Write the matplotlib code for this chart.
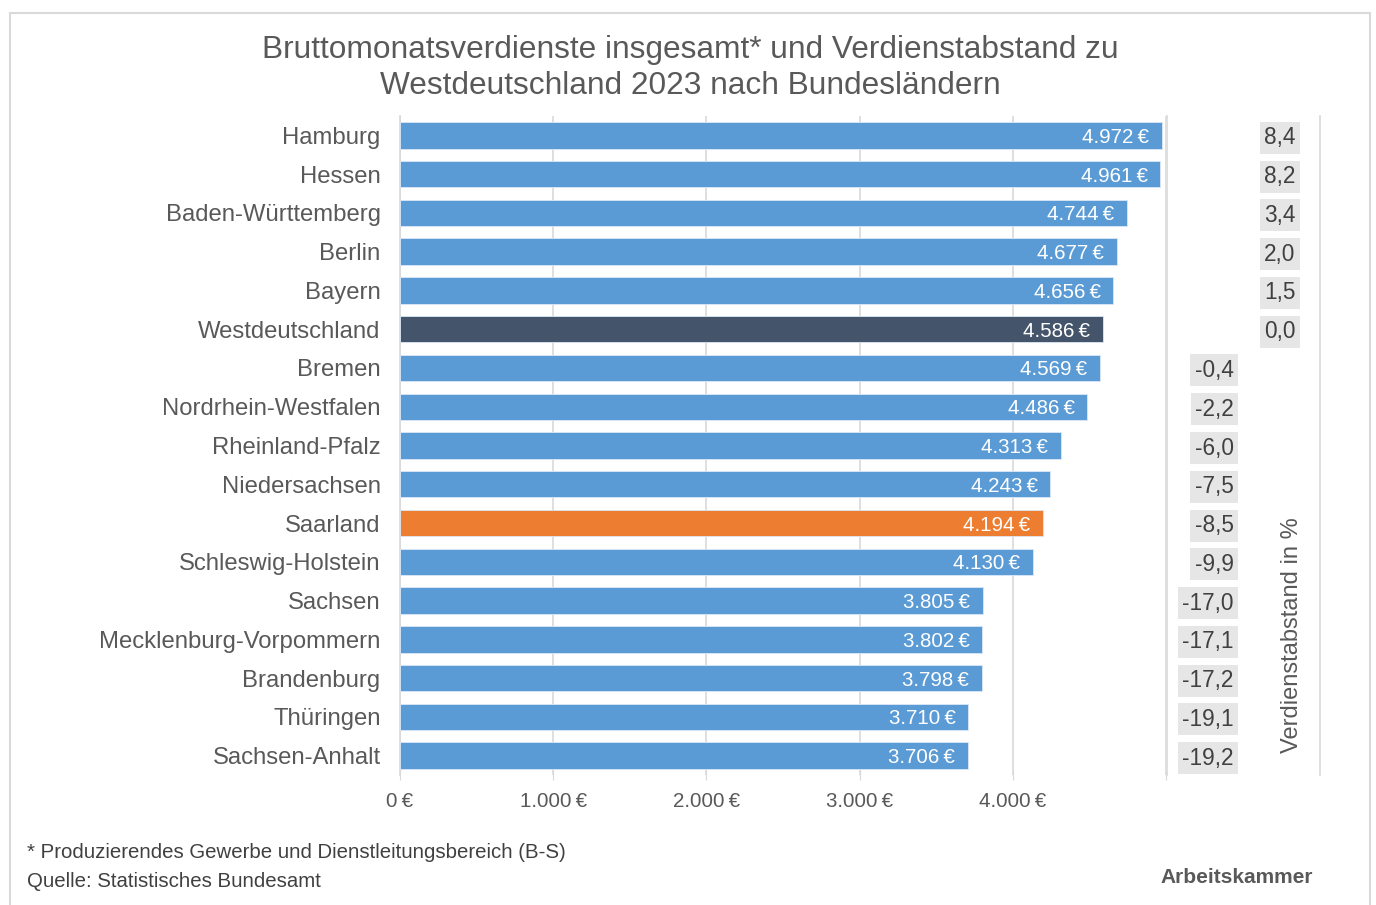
import numpy as np
import matplotlib.pyplot as plt
from matplotlib.patches import Rectangle

plt.rcParams['font.family'] = ['Liberation Sans', 'DejaVu Sans']

# data
laender = ['Hamburg', 'Hessen', 'Baden-Württemberg', 'Berlin', 'Bayern', 'Westdeutschland',
           'Bremen', 'Nordrhein-Westfalen', 'Rheinland-Pfalz', 'Niedersachsen', 'Saarland',
           'Schleswig-Holstein', 'Sachsen', 'Mecklenburg-Vorpommern', 'Brandenburg',
           'Thüringen', 'Sachsen-Anhalt']
verdienst = [4972, 4961, 4744, 4677, 4656, 4586, 4569, 4486, 4313, 4243, 4194,
             4130, 3805, 3802, 3798, 3710, 3706]
abstand = [8.4, 8.2, 3.4, 2.0, 1.5, 0.0, -0.4, -2.2, -6.0, -7.5, -8.5,
           -9.9, -17.0, -17.1, -17.2, -19.1, -19.2]
xticks = [0, 1000, 2000, 3000, 4000]

blue = '#5b9bd5'
dark = '#44546a'
orange = '#ed7d31'
grid = '#d9d9d9'
txt = '#595959'

def euro(v):
    s = f'{v:,}'.replace(',', '.')
    return s + '\u2009€'

colors = []
for name in laender:
    if name == 'Westdeutschland':
        colors.append(dark)
    elif name == 'Saarland':
        colors.append(orange)
    else:
        colors.append(blue)

W, H = 1376, 905
fig = plt.figure(figsize=(W / 100, H / 100), dpi=100)

# light frame around the chart
fig.patches.append(Rectangle((10 / W, -0.05), 1360 / W, 1.05 - 13 / H, transform=fig.transFigure,
                             fill=False, edgecolor=grid, linewidth=1.5))

ax = fig.add_axes([400 / W, 130 / H, 766 / W, 659 / H])
y = np.arange(len(laender))
ax.barh(y, verdienst, height=0.68, color=colors, edgecolor='#dbe8f5', linewidth=0.6, zorder=3)
ax.set_ylim(len(laender) - 0.5, -0.5)
ax.set_xlim(0, 5000)
ax.set_yticks(y)
ax.set_yticklabels(laender, fontsize=17.2, color=txt)
ax.set_xticks(xticks + [5000])
ax.set_xticklabels([euro(v) if v > 0 else '0\u2009€' for v in xticks] + [''], fontsize=14.8, color=txt)
ax.tick_params(axis='y', length=0, pad=14)
ax.tick_params(axis='x', length=7, color=grid, pad=9, direction='inout')
ax.grid(axis='x', color=grid, linewidth=1.2, zorder=0)
for s in ['top', 'right', 'bottom']:
    ax.spines[s].set_visible(False)
ax.spines['left'].set_color(grid)
ax.spines['left'].set_linewidth(1.2)

for i, v in enumerate(verdienst):
    ax.annotate(euro(v), (v, i), xytext=(-9, 0), textcoords='offset points',
                ha='right', va='center_baseline', color='white', fontsize=14.8, zorder=4)

# second panel: Verdienstabstand
ax2 = fig.add_axes([1167 / W, 130 / H, 153 / W, 659 / H])
ax2.set_xlim(-30, 25)
ax2.set_ylim(len(laender) - 0.5, -0.5)
ax2.set_xticks([])
ax2.set_yticks([])
for s in ['top', 'bottom']:
    ax2.spines[s].set_visible(False)
for s in ['left', 'right']:
    ax2.spines[s].set_color(grid)
    ax2.spines[s].set_linewidth(1.2)
ax2.patch.set_alpha(0)

for i, a in enumerate(abstand):
    lab = f'{a:.1f}'.replace('.', ',')
    if a >= 0:
        off, ha = 10, 'left'
    else:
        off, ha = -12, 'right'
    ax2.annotate(lab, (0, i), xytext=(off, 0), textcoords='offset points', ha=ha,
                 va='center_baseline', fontsize=16.3, color='#404040',
                 bbox=dict(boxstyle='square,pad=0.2', facecolor='#e7e6e6', edgecolor='none'))

fig.text(1292 / W, 1 - 635 / H, 'Verdienstabstand in %', rotation=90, ha='center', va='center',
         fontsize=17, color=txt)

fig.text(690 / W, 1 - 68 / H, 'Bruttomonatsverdienste insgesamt* und Verdienstabstand zu\n'
         'Westdeutschland 2023 nach Bundesländern', ha='center', va='center',
         fontsize=22.8, color=txt, linespacing=1.3)

fig.text(27 / W, 1 - 852 / H, '* Produzierendes Gewerbe und Dienstleitungsbereich (B-S)',
         ha='left', va='center', fontsize=14.7, color='#404040')
fig.text(27 / W, 1 - 881 / H, 'Quelle: Statistisches Bundesamt',
         ha='left', va='center', fontsize=14.7, color='#404040')
fig.text(1237 / W, 1 - 877 / H, 'Arbeitskammer', ha='center', va='center',
         fontsize=15, fontweight='bold', color=txt)

fig.savefig('out.png', dpi=100)
